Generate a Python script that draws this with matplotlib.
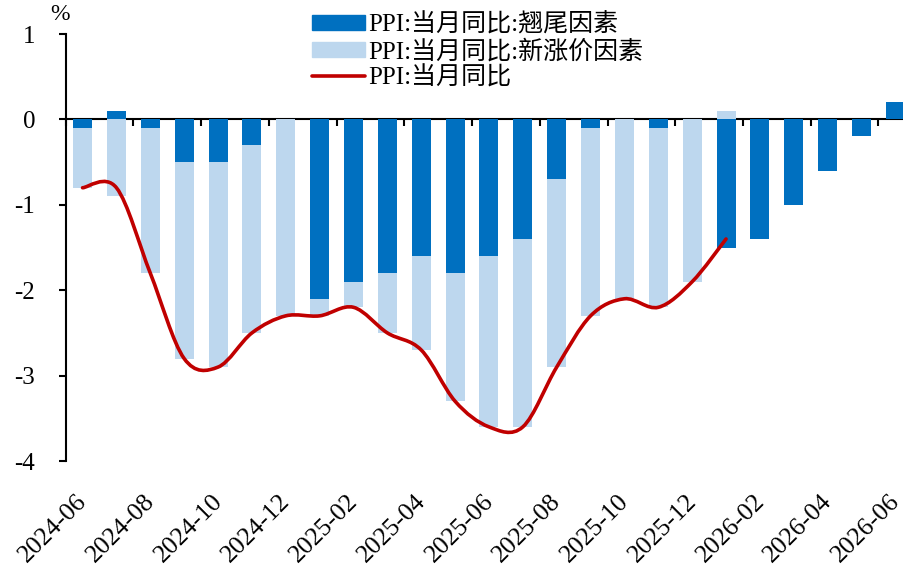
import numpy as np
import matplotlib
matplotlib.use("Agg")
import matplotlib.pyplot as plt
from matplotlib.path import Path
from matplotlib.patches import PathPatch
from matplotlib.lines import Line2D

plt.rcParams['font.family'] = ['Liberation Serif', 'Noto Sans CJK SC']
plt.rcParams['axes.unicode_minus'] = False

months = ['2024-06', '2024-07', '2024-08', '2024-09', '2024-10', '2024-11', '2024-12',
          '2025-01', '2025-02', '2025-03', '2025-04', '2025-05', '2025-06', '2025-07',
          '2025-08', '2025-09', '2025-10', '2025-11', '2025-12', '2026-01', '2026-02',
          '2026-03', '2026-04', '2026-05', '2026-06']
# carry-over (翘尾) and new price (新涨价) factors
carry = [-0.1, 0.1, -0.1, -0.5, -0.5, -0.3, 0.0, -2.1, -1.9, -1.8, -1.6, -1.8, -1.6,
         -1.4, -0.7, -0.1, 0.0, -0.1, 0.0, -1.5, -1.4, -1.0, -0.6, -0.2, 0.2]
newp = [-0.7, -0.9, -1.7, -2.3, -2.4, -2.2, -2.3, -0.2, -0.3, -0.7, -1.1, -1.5, -2.0,
        -2.2, -2.2, -2.2, -2.1, -2.1, -1.9, 0.1]
ppi = [-0.8, -0.8, -1.8, -2.8, -2.9, -2.5, -2.3, -2.3, -2.2, -2.5, -2.7, -3.3, -3.6,
       -3.6, -2.9, -2.3, -2.1, -2.2, -1.9, -1.4]

c_dark = '#0070C0'
c_light = '#BDD7EE'
c_red = '#C00000'

fig = plt.figure(figsize=(9.04, 5.65), dpi=100)
ax = fig.add_axes([0.0726, 0.184, 0.9366, 0.7558])

x = np.arange(len(months))
carry = np.array(carry)
xn = np.arange(len(newp))
newp = np.array(newp)
bw = 0.56
ax.bar(x, carry, bw, color=c_dark, zorder=2)
# stack new-price part away from zero on the same side as carry
base = np.where(np.sign(newp) == np.sign(carry[:len(newp)]), carry[:len(newp)], 0.0)
ax.bar(xn, newp, bw, bottom=base, color=c_light, zorder=2)

# smoothed line (Catmull-Rom style bezier, like Excel smooth line)
xp = np.arange(len(ppi), dtype=float)
yp = np.array(ppi)
verts = [(xp[0], yp[0])]
codes = [Path.MOVETO]
n = len(xp)
for i in range(n - 1):
    i0 = max(i - 1, 0)
    i3 = min(i + 2, n - 1)
    c1 = (xp[i] + (xp[i + 1] - xp[i0]) / 6, yp[i] + (yp[i + 1] - yp[i0]) / 6)
    c2 = (xp[i + 1] - (xp[i3] - xp[i]) / 6, yp[i + 1] - (yp[i3] - yp[i]) / 6)
    verts += [c1, c2, (xp[i + 1], yp[i + 1])]
    codes += [Path.CURVE4] * 3
ax.add_patch(PathPatch(Path(verts, codes), facecolor='none', edgecolor=c_red,
                       lw=2.6, capstyle='round', zorder=3))

ax.set_xlim(-0.5, len(months) - 0.5)
ax.set_ylim(-4, 1)
ax.set_yticks([1, 0, -1, -2, -3, -4])
ax.tick_params(axis='y', direction='out', length=5, width=1.5, labelsize=18, pad=17)
ax.set_xticks(x[::2] - 0.2)
ax.set_xticklabels(months[::2], rotation=45, ha='right', va='top',
                   rotation_mode='anchor')
ax.tick_params(axis='x', length=0, labelsize=18.5, pad=21)
for s in ['top', 'right', 'bottom']:
    ax.spines[s].set_visible(False)
ax.spines['left'].set_linewidth(1.5)

# zero line with tick marks between categories
sec = ax.secondary_xaxis(0.8)
sec.set_alignment('bottom')
sec.set_xticks(np.arange(-0.5, len(months), 2))
sec.tick_params(direction='out', length=5, width=1.5, labelbottom=False, labeltop=False)
sec.spines['bottom'].set_linewidth(1.5)

ax.text(-0.007, 1.02, '%', transform=ax.transAxes, fontsize=17, ha='center', va='bottom')

handles = [plt.Rectangle((0, 0), 1, 1, color=c_dark),
           plt.Rectangle((0, 0), 1, 1, color=c_light),
           Line2D([], [], color=c_red, lw=2.6, solid_capstyle='round')]
labels = ['PPI:当月同比:翘尾因素', 'PPI:当月同比:新涨价因素', 'PPI:当月同比']
fig.legend(handles, labels, loc='upper left', bbox_to_anchor=(0.326, 1.008),
           frameon=False, fontsize=18, handlelength=2.1, handleheight=0.55,
           handletextpad=0.15, labelspacing=0.12, borderpad=0.2)

fig.savefig('out.png', dpi=100)
